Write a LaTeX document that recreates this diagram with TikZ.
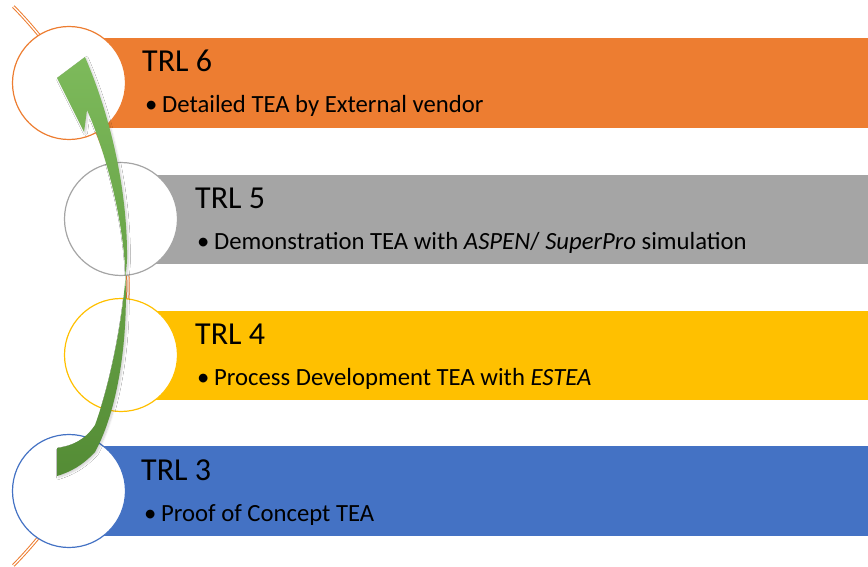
\documentclass[tikz,border=0pt]{standalone}
\usepackage{fontspec}
\usetikzlibrary{shadows.blur}
\setmainfont{Carlito}
\definecolor{trlorange}{HTML}{ED7D31}
\definecolor{trlgray}{HTML}{A5A5A5}
\definecolor{trlyellow}{HTML}{FFC000}
\definecolor{trlblue}{HTML}{4472C4}
\definecolor{arrowlight}{HTML}{7DBA5B}
\definecolor{arrowdark}{HTML}{548C35}
\newcommand{\blt}{\makebox[14pt][l]{\hspace{-3pt}\textbullet}}
\begin{document}
\begin{tikzpicture}[x=1pt,y=-1pt,
  ring/.style={circle, draw=#1, line width=1.2pt, fill=white, minimum size=113pt, inner sep=0pt},
  title/.style={anchor=base west, inner sep=0pt, font=\fontsize{32}{38}\selectfont},
  item/.style={anchor=base west, inner sep=0pt, font=\fontsize{24.7}{30}\selectfont},
  rail/.style={draw=trlorange, line width=1pt, double=white, double distance=1.3pt},
]
\useasboundingbox (0,0) rectangle (868,567);

% orange rail running behind the circles
\draw[rail] (-270,286) ++(-44.6:398) arc[start angle=-44.6, end angle=44.6, radius=398];

% level bars
\fill[trlorange] (69,38) rectangle (868,128);
\fill[trlgray] (121,175) rectangle (868,264);
\fill[trlyellow] (121,311) rectangle (868,400);
\fill[trlblue] (69,446) rectangle (868,536);

% circles
\node[ring=trlorange] (c6) at (69,83) {};
\node[ring=trlgray] (c5) at (121,219) {};
\node[ring=trlyellow] (c4) at (121,355) {};
\node[ring=trlblue] (c3) at (69,491) {};

% labels
\node[title] (t6) at (142,72) {TRL 6};
\node[item] (i6) at (148,113) {\blt Detailed TEA by External vendor};
\node[title] (t5) at (195,208) {TRL 5};
\node[item] (i5) at (200,249) {\blt Demonstration TEA with \textit{ASPEN}/ \textit{SuperPro} simulation};
\node[title] (t4) at (195,344) {TRL 4};
\node[item] (i4) at (200,385) {\blt Process Development TEA with \textit{ESTEA}};
\node[title] (t3) at (141,480) {TRL 3};
\node[item] (i3) at (147,521) {\blt Proof of Concept TEA};

% curved progress arrow
\shade[top color=arrowlight, bottom color=arrowdark,
       blur shadow={shadow xshift=1.5pt, shadow yshift=-1.5pt, shadow blur steps=6, shadow opacity=18}]
  (85,57) .. controls (108,110) and (126,180) .. (127,250)
  .. controls (127.5,262) and (126,270) .. (125.5,278)
  .. controls (128,340) and (118,410) .. (95,452)
  .. controls (82,466) and (70,472) .. (57,476)
  -- (57,448)
  .. controls (72,446) and (85,440) .. (95,425)
  .. controls (106,395) and (120,340) .. (125.5,278)
  .. controls (124,220) and (105,150) .. (87,110)
  -- (84,132) -- (57,78) -- cycle;
\end{tikzpicture}
\end{document}
